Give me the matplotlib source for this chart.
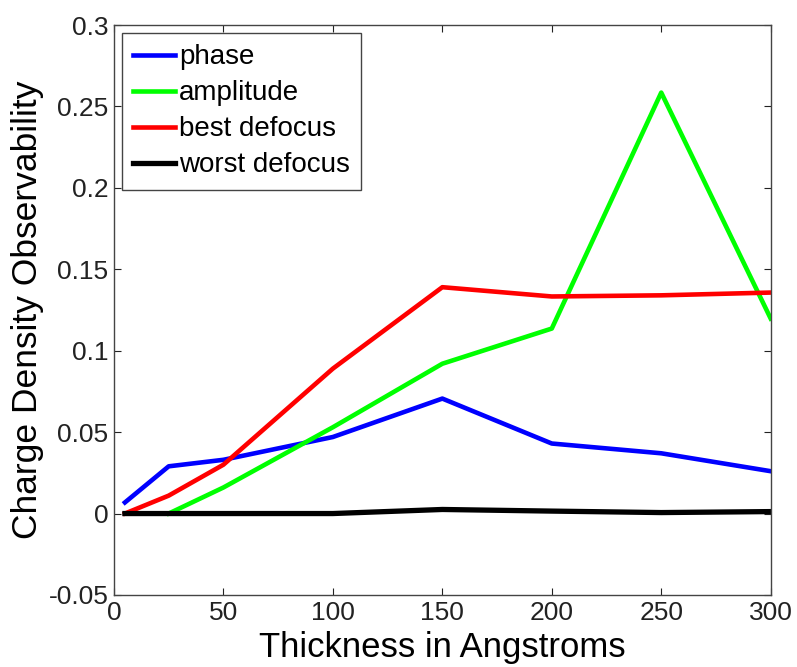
# Charge density observability vs thickness (MATLAB-style line plot)
import matplotlib
matplotlib.use("Agg")
import matplotlib.pyplot as plt

plt.rcParams['font.family'] = ['Liberation Sans', 'DejaVu Sans']

# data
thickness = [5, 25, 50, 100, 150, 200, 250, 300]
phase = [0.0068, 0.029, 0.033, 0.047, 0.0706, 0.043, 0.037, 0.026]
amplitude = [None, 0.0, 0.016, 0.053, 0.092, 0.1136, 0.2585, 0.1197]
best_defocus = [0.0, 0.011, 0.03, 0.089, 0.139, 0.1333, 0.134, 0.1357]
worst_defocus = [0.0, 0.0, 0.0, 0.0, 0.0025, 0.0015, 0.0006, 0.0012]

x_ticks = [0, 50, 100, 150, 200, 250, 300]
y_ticks = [-0.05, 0, 0.05, 0.1, 0.15, 0.2, 0.25, 0.3]
y_tick_labels = ["-0.05", "0", "0.05", "0.1", "0.15", "0.2", "0.25", "0.3"]

fig = plt.figure(figsize=(7.97, 6.67), dpi=100)
ax = fig.add_axes([0.143, 0.108, 0.824, 0.8545])

# amplitude starts at x=25
amp_x = [t for t, a in zip(thickness, amplitude) if a is not None]
amp_y = [a for a in amplitude if a is not None]

ax.plot(thickness, phase, color=(0, 0, 1), lw=3.3, label="phase")
ax.plot(amp_x, amp_y, color=(0, 1, 0), lw=3.3, label="amplitude")
ax.plot(thickness, best_defocus, color=(1, 0, 0), lw=3.3, label="best defocus")
ax.plot(thickness, worst_defocus, color="black", lw=3.8, label="worst defocus")

ax.set_xlim(0, 300)
ax.set_ylim(-0.05, 0.3)
ax.set_xticks(x_ticks)
ax.set_yticks(y_ticks)
ax.set_yticklabels(y_tick_labels)
ax.tick_params(direction="in", length=5, width=0.8, top=True, right=True,
               labelsize=19, colors="#222222", pad=4)
for s in ax.spines.values():
    s.set_color("#444444")
    s.set_linewidth(1.0)

ax.set_xlabel("Thickness in Angstroms", fontsize=25, labelpad=5)
ax.set_ylabel("Charge Density Observability", fontsize=25.5, labelpad=3)

leg = ax.legend(loc="upper left", fontsize=20, handlelength=1.5,
                handletextpad=0.15, labelspacing=0.36, borderpad=0.4,
                borderaxespad=0.3, fancybox=False, framealpha=1)
leg.get_frame().set_edgecolor("#444444")
leg.get_frame().set_linewidth(1.0)

fig.savefig("out.png", dpi=100)
